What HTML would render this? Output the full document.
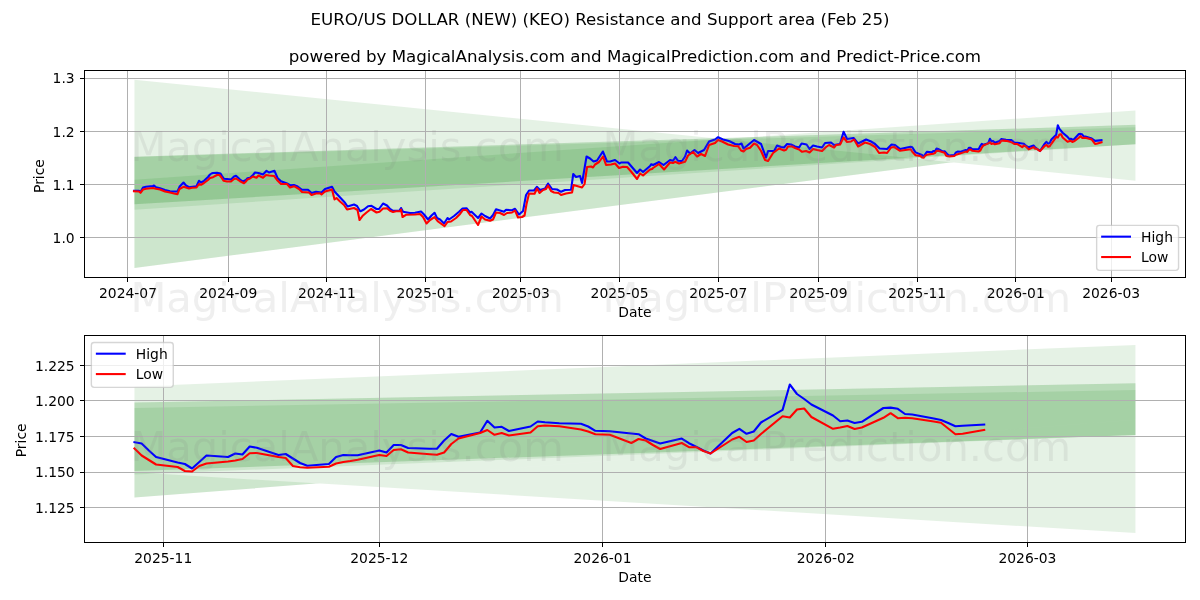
<!DOCTYPE html>
<html lang="en"><head><meta charset="utf-8"><title>EURO/US DOLLAR (NEW) (KEO) Resistance and Support area</title>
<style>html,body{margin:0;padding:0;background:#fff;width:1200px;height:600px;overflow:hidden}
svg{font-family:"DejaVu Sans","Liberation Sans",sans-serif}</style></head>
<body>
<svg width="1200" height="600" viewBox="0 0 864 432" style="display:block">
 <defs>
  <style type="text/css">*{stroke-linejoin: round; stroke-linecap: butt}</style>
 </defs>
 <g id="figure_1">
  <g id="patch_1">
   <path d="M 0 432 L 864 432 L 864 0 L 0 0 z" style="fill: #ffffff"/>
  </g>
  <g id="axes_1">
   <g id="patch_2">
    <path d="M 60.768 199.656 L 853.56 199.656 L 853.56 50.688 L 60.768 50.688 z" style="fill: #ffffff"/>
   </g>
   <g id="FillBetweenPolyCollection_1">
    <path d="M 96.804 192.887 L 96.804 57.455 L 817.524 130.140 L 817.524 99.691 L 817.524 99.691 L 96.804 192.887 z" clip-path="url(#p3111c5b65c)" style="fill: #008000; fill-opacity: 0.1"/>
   </g>
   <g id="FillBetweenPolyCollection_2">
    <path d="M 96.804 192.887 L 96.804 129.383 L 817.524 79.543 L 817.524 99.691 L 817.524 99.691 L 96.804 192.887 z" clip-path="url(#p3111c5b65c)" style="fill: #008000; fill-opacity: 0.1"/>
   </g>
   <g id="FillBetweenPolyCollection_3">
    <path d="M 96.804 147.023 L 96.804 112.823 L 817.524 89.873 L 817.524 103.779 L 817.524 103.779 L 96.804 147.023 z" clip-path="url(#p3111c5b65c)" style="fill: #008000; fill-opacity: 0.1"/>
   </g>
   <g id="FillBetweenPolyCollection_4">
    <path d="M 96.804 150.983 L 96.804 112.823 L 817.524 89.873 L 817.524 103.779 L 817.524 103.779 L 96.804 150.983 z" clip-path="url(#p3111c5b65c)" style="fill: #008000; fill-opacity: 0.1"/>
   </g>
   <g id="FillBetweenPolyCollection_5">
    <path d="M 96.804 147.023 L 96.804 113.111 L 817.524 91.675 L 817.524 103.779 L 817.524 103.779 L 96.804 147.023 z" clip-path="url(#p3111c5b65c)" style="fill: #008000; fill-opacity: 0.1"/>
   </g>
   <g id="matplotlib.axis_1">
    <g id="xtick_1">
     <g id="line2d_1">
      <path d="M 91.8000 199.6560 L 91.8000 50.6880" clip-path="url(#p3111c5b65c)" style="shape-rendering: crispEdges; fill: none; stroke: #b0b0b0; stroke-width: 0.72; stroke-linecap: square"/>
     </g>
     <g id="line2d_2">
      <g>
       <path d="M 0 0 L 0 3.5" transform="translate(91.8000 199.6560)" style="shape-rendering: crispEdges; stroke: #000000; stroke-width: 0.72; stroke: #000000; stroke-width: 0.72"/>
      </g>
     </g>
     <g id="text_1">
      <text style="font-size: 10px; font-family: 'DejaVu Sans', 'Liberation Sans', sans-serif; text-anchor: middle" x="92.146" y="214.254">2024-07</text>
     </g>
    </g>
    <g id="xtick_2">
     <g id="line2d_3">
      <path d="M 164.5200 199.6560 L 164.5200 50.6880" clip-path="url(#p3111c5b65c)" style="shape-rendering: crispEdges; fill: none; stroke: #b0b0b0; stroke-width: 0.72; stroke-linecap: square"/>
     </g>
     <g id="line2d_4">
      <g>
       <path d="M 0 0 L 0 3.5" transform="translate(164.5200 199.6560)" style="shape-rendering: crispEdges; stroke: #000000; stroke-width: 0.72; stroke: #000000; stroke-width: 0.72"/>
      </g>
     </g>
     <g id="text_2">
      <text style="font-size: 10px; font-family: 'DejaVu Sans', 'Liberation Sans', sans-serif; text-anchor: middle" x="164.335" y="214.254">2024-09</text>
     </g>
    </g>
    <g id="xtick_3">
     <g id="line2d_5">
      <path d="M 235.0800 199.6560 L 235.0800 50.6880" clip-path="url(#p3111c5b65c)" style="shape-rendering: crispEdges; fill: none; stroke: #b0b0b0; stroke-width: 0.72; stroke-linecap: square"/>
     </g>
     <g id="line2d_6">
      <g>
       <path d="M 0 0 L 0 3.5" transform="translate(235.0800 199.6560)" style="shape-rendering: crispEdges; stroke: #000000; stroke-width: 0.72; stroke: #000000; stroke-width: 0.72"/>
      </g>
     </g>
     <g id="text_3">
      <text style="font-size: 10px; font-family: 'DejaVu Sans', 'Liberation Sans', sans-serif; text-anchor: middle" x="235.359" y="214.254">2024-11</text>
     </g>
    </g>
    <g id="xtick_4">
     <g id="line2d_7">
      <path d="M 306.3600 199.6560 L 306.3600 50.6880" clip-path="url(#p3111c5b65c)" style="shape-rendering: crispEdges; fill: none; stroke: #b0b0b0; stroke-width: 0.72; stroke-linecap: square"/>
     </g>
     <g id="line2d_8">
      <g>
       <path d="M 0 0 L 0 3.5" transform="translate(306.3600 199.6560)" style="shape-rendering: crispEdges; stroke: #000000; stroke-width: 0.72; stroke: #000000; stroke-width: 0.72"/>
      </g>
     </g>
     <g id="text_4">
      <text style="font-size: 10px; font-family: 'DejaVu Sans', 'Liberation Sans', sans-serif; text-anchor: middle" x="306.383" y="214.254">2025-01</text>
     </g>
    </g>
    <g id="xtick_5">
     <g id="line2d_9">
      <path d="M 374.7600 199.6560 L 374.7600 50.6880" clip-path="url(#p3111c5b65c)" style="shape-rendering: crispEdges; fill: none; stroke: #b0b0b0; stroke-width: 0.72; stroke-linecap: square"/>
     </g>
     <g id="line2d_10">
      <g>
       <path d="M 0 0 L 0 3.5" transform="translate(374.7600 199.6560)" style="shape-rendering: crispEdges; stroke: #000000; stroke-width: 0.72; stroke: #000000; stroke-width: 0.72"/>
      </g>
     </g>
     <g id="text_5">
      <text style="font-size: 10px; font-family: 'DejaVu Sans', 'Liberation Sans', sans-serif; text-anchor: middle" x="375.078" y="214.254">2025-03</text>
     </g>
    </g>
    <g id="xtick_6">
     <g id="line2d_11">
      <path d="M 446.0400 199.6560 L 446.0400 50.6880" clip-path="url(#p3111c5b65c)" style="shape-rendering: crispEdges; fill: none; stroke: #b0b0b0; stroke-width: 0.72; stroke-linecap: square"/>
     </g>
     <g id="line2d_12">
      <g>
       <path d="M 0 0 L 0 3.5" transform="translate(446.0400 199.6560)" style="shape-rendering: crispEdges; stroke: #000000; stroke-width: 0.72; stroke: #000000; stroke-width: 0.72"/>
      </g>
     </g>
     <g id="text_6">
      <text style="font-size: 10px; font-family: 'DejaVu Sans', 'Liberation Sans', sans-serif; text-anchor: middle" x="446.102" y="214.254">2025-05</text>
     </g>
    </g>
    <g id="xtick_7">
     <g id="line2d_13">
      <path d="M 517.3200 199.6560 L 517.3200 50.6880" clip-path="url(#p3111c5b65c)" style="shape-rendering: crispEdges; fill: none; stroke: #b0b0b0; stroke-width: 0.72; stroke-linecap: square"/>
     </g>
     <g id="line2d_14">
      <g>
       <path d="M 0 0 L 0 3.5" transform="translate(517.3200 199.6560)" style="shape-rendering: crispEdges; stroke: #000000; stroke-width: 0.72; stroke: #000000; stroke-width: 0.72"/>
      </g>
     </g>
     <g id="text_7">
      <text style="font-size: 10px; font-family: 'DejaVu Sans', 'Liberation Sans', sans-serif; text-anchor: middle" x="517.126" y="214.254">2025-07</text>
     </g>
    </g>
    <g id="xtick_8">
     <g id="line2d_15">
      <path d="M 589.3200 199.6560 L 589.3200 50.6880" clip-path="url(#p3111c5b65c)" style="shape-rendering: crispEdges; fill: none; stroke: #b0b0b0; stroke-width: 0.72; stroke-linecap: square"/>
     </g>
     <g id="line2d_16">
      <g>
       <path d="M 0 0 L 0 3.5" transform="translate(589.3200 199.6560)" style="shape-rendering: crispEdges; stroke: #000000; stroke-width: 0.72; stroke: #000000; stroke-width: 0.72"/>
      </g>
     </g>
     <g id="text_8">
      <text style="font-size: 10px; font-family: 'DejaVu Sans', 'Liberation Sans', sans-serif; text-anchor: middle" x="589.315" y="214.254">2025-09</text>
     </g>
    </g>
    <g id="xtick_9">
     <g id="line2d_17">
      <path d="M 660.6000 199.6560 L 660.6000 50.6880" clip-path="url(#p3111c5b65c)" style="shape-rendering: crispEdges; fill: none; stroke: #b0b0b0; stroke-width: 0.72; stroke-linecap: square"/>
     </g>
     <g id="line2d_18">
      <g>
       <path d="M 0 0 L 0 3.5" transform="translate(660.6000 199.6560)" style="shape-rendering: crispEdges; stroke: #000000; stroke-width: 0.72; stroke: #000000; stroke-width: 0.72"/>
      </g>
     </g>
     <g id="text_9">
      <text style="font-size: 10px; font-family: 'DejaVu Sans', 'Liberation Sans', sans-serif; text-anchor: middle" x="660.339" y="214.254">2025-11</text>
     </g>
    </g>
    <g id="xtick_10">
     <g id="line2d_19">
      <path d="M 731.1600 199.6560 L 731.1600 50.6880" clip-path="url(#p3111c5b65c)" style="shape-rendering: crispEdges; fill: none; stroke: #b0b0b0; stroke-width: 0.72; stroke-linecap: square"/>
     </g>
     <g id="line2d_20">
      <g>
       <path d="M 0 0 L 0 3.5" transform="translate(731.1600 199.6560)" style="shape-rendering: crispEdges; stroke: #000000; stroke-width: 0.72; stroke: #000000; stroke-width: 0.72"/>
      </g>
     </g>
     <g id="text_10">
      <text style="font-size: 10px; font-family: 'DejaVu Sans', 'Liberation Sans', sans-serif; text-anchor: middle" x="731.363" y="214.254">2026-01</text>
     </g>
    </g>
    <g id="xtick_11">
     <g id="line2d_21">
      <path d="M 800.2800 199.6560 L 800.2800 50.6880" clip-path="url(#p3111c5b65c)" style="shape-rendering: crispEdges; fill: none; stroke: #b0b0b0; stroke-width: 0.72; stroke-linecap: square"/>
     </g>
     <g id="line2d_22">
      <g>
       <path d="M 0 0 L 0 3.5" transform="translate(800.2800 199.6560)" style="shape-rendering: crispEdges; stroke: #000000; stroke-width: 0.72; stroke: #000000; stroke-width: 0.72"/>
      </g>
     </g>
     <g id="text_11">
      <text style="font-size: 10px; font-family: 'DejaVu Sans', 'Liberation Sans', sans-serif; text-anchor: middle" x="800.059" y="214.254">2026-03</text>
     </g>
    </g>
    <g id="text_12">
     <text style="font-size: 10px; font-family: 'DejaVu Sans', 'Liberation Sans', sans-serif; text-anchor: middle" x="457.164" y="227.932">Date</text>
    </g>
   </g>
   <g id="matplotlib.axis_2">
    <g id="ytick_1">
     <g id="line2d_23">
      <path d="M 60.7680 171.0000 L 853.5600 171.0000" clip-path="url(#p3111c5b65c)" style="shape-rendering: crispEdges; fill: none; stroke: #b0b0b0; stroke-width: 0.72; stroke-linecap: square"/>
     </g>
     <g id="line2d_24">
      <g>
       <path d="M 0 0 L -3.5 0" transform="translate(60.7680 171.0000)" style="shape-rendering: crispEdges; stroke: #000000; stroke-width: 0.72; stroke: #000000; stroke-width: 0.72"/>
      </g>
     </g>
     <g id="text_13">
      <text style="font-size: 10px; font-family: 'DejaVu Sans', 'Liberation Sans', sans-serif; text-anchor: end" x="53.768" y="175.014">1.0</text>
     </g>
    </g>
    <g id="ytick_2">
     <g id="line2d_25">
      <path d="M 60.7680 132.8400 L 853.5600 132.8400" clip-path="url(#p3111c5b65c)" style="shape-rendering: crispEdges; fill: none; stroke: #b0b0b0; stroke-width: 0.72; stroke-linecap: square"/>
     </g>
     <g id="line2d_26">
      <g>
       <path d="M 0 0 L -3.5 0" transform="translate(60.7680 132.8400)" style="shape-rendering: crispEdges; stroke: #000000; stroke-width: 0.72; stroke: #000000; stroke-width: 0.72"/>
      </g>
     </g>
     <g id="text_14">
      <text style="font-size: 10px; font-family: 'DejaVu Sans', 'Liberation Sans', sans-serif; text-anchor: end" x="53.768" y="136.710">1.1</text>
     </g>
    </g>
    <g id="ytick_3">
     <g id="line2d_27">
      <path d="M 60.7680 94.6800 L 853.5600 94.6800" clip-path="url(#p3111c5b65c)" style="shape-rendering: crispEdges; fill: none; stroke: #b0b0b0; stroke-width: 0.72; stroke-linecap: square"/>
     </g>
     <g id="line2d_28">
      <g>
       <path d="M 0 0 L -3.5 0" transform="translate(60.7680 94.6800)" style="shape-rendering: crispEdges; stroke: #000000; stroke-width: 0.72; stroke: #000000; stroke-width: 0.72"/>
      </g>
     </g>
     <g id="text_15">
      <text style="font-size: 10px; font-family: 'DejaVu Sans', 'Liberation Sans', sans-serif; text-anchor: end" x="53.768" y="98.406">1.2</text>
     </g>
    </g>
    <g id="ytick_4">
     <g id="line2d_29">
      <path d="M 60.7680 56.5200 L 853.5600 56.5200" clip-path="url(#p3111c5b65c)" style="shape-rendering: crispEdges; fill: none; stroke: #b0b0b0; stroke-width: 0.72; stroke-linecap: square"/>
     </g>
     <g id="line2d_30">
      <g>
       <path d="M 0 0 L -3.5 0" transform="translate(60.7680 56.5200)" style="shape-rendering: crispEdges; stroke: #000000; stroke-width: 0.72; stroke: #000000; stroke-width: 0.72"/>
      </g>
     </g>
     <g id="text_16">
      <text style="font-size: 10px; font-family: 'DejaVu Sans', 'Liberation Sans', sans-serif; text-anchor: end" x="53.768" y="60.102">1.3</text>
     </g>
    </g>
    <g id="text_17">
     <text style="font-size: 10px; font-family: 'DejaVu Sans', 'Liberation Sans', sans-serif; text-anchor: middle" x="31.785" y="126.756" transform="rotate(-90 31.785 126.756)">Price</text>
    </g>
   </g>
   <g id="line2d_31">
    <path d="M 96.479 137.375 L 100.080 137.375 L 101.160 138.239 L 102.960 134.999 L 105.120 134.495 L 110.161 133.919 L 110.881 133.559 L 112.321 134.783 L 115.201 135.503 L 118.802 136.799 L 122.402 137.663 L 125.282 137.879 L 127.803 137.879 L 129.243 134.495 L 132.123 131.399 L 133.923 133.559 L 136.083 134.783 L 141.484 134.063 L 143.284 130.175 L 144.724 131.399 L 146.885 130.175 L 149.765 127.439 L 151.205 125.639 L 152.285 124.919 L 153.365 124.559 L 156.245 124.415 L 158.766 124.919 L 159.846 126.719 L 161.286 128.735 L 163.446 128.879 L 166.326 129.239 L 168.487 127.079 L 169.927 126.575 L 172.807 129.239 L 174.967 130.679 L 177.128 129.599 L 178.208 128.303 L 180.008 128.015 L 182.168 125.999 L 183.608 124.199 L 186.128 124.559 L 189.369 125.639 L 191.889 122.975 L 193.689 124.199 L 197.650 122.975 L 199.810 128.159 L 202.330 130.463 L 206.650 132.119 L 208.811 133.343 L 211.691 133.199 L 213.851 134.063 L 217.452 136.655 L 221.772 136.655 L 224.292 138.959 L 227.533 138.095 L 231.493 138.599 L 234.013 136.079 L 239.054 134.495 L 240.854 137.879 L 248.415 146.015 L 250.215 148.679 L 254.895 147.239 L 257.056 148.319 L 259.216 151.919 L 259.576 152.063 L 262.096 150.839 L 264.976 148.463 L 267.497 148.175 L 271.097 150.479 L 272.897 150.479 L 275.777 146.519 L 278.658 147.959 L 280.818 150.479 L 282.978 151.775 L 285.138 151.775 L 287.659 151.559 L 288.739 149.759 L 290.179 152.495 L 295.219 153.359 L 298.820 153.215 L 303.140 152.279 L 305.300 154.439 L 308.181 158.039 L 310.701 155.159 L 312.861 153.215 L 314.661 156.959 L 316.821 158.039 L 319.702 160.919 L 322.222 156.959 L 323.302 158.039 L 326.902 155.519 L 330.503 152.495 L 333.023 150.119 L 335.903 149.903 L 338.424 152.999 L 339.504 152.495 L 344.184 156.959 L 346.704 153.719 L 349.225 155.519 L 352.825 157.319 L 354.985 154.799 L 357.146 150.623 L 362.906 152.495 L 364.346 151.055 L 368.667 151.343 L 370.827 150.335 L 373.707 154.439 L 376.587 151.919 L 378.748 140.399 L 380.908 137.159 L 384.508 137.159 L 386.524 134.495 L 388.829 136.799 L 392.429 135.719 L 394.589 132.119 L 397.470 136.079 L 401.070 136.439 L 403.950 138.095 L 406.830 136.799 L 411.151 136.655 L 412.735 125.279 L 414.751 127.439 L 417.632 126.719 L 419.072 131.759 L 422.312 112.679 L 424.832 114.119 L 427.353 116.279 L 429.873 115.559 L 434.049 109.079 L 437.073 116.279 L 439.234 116.279 L 442.834 115.199 L 446.074 117.719 L 447.155 116.999 L 452.195 116.999 L 458.676 124.559 L 460.836 122.039 L 462.996 123.839 L 468.037 119.519 L 468.901 118.223 L 470.197 118.799 L 474.517 116.639 L 477.758 118.799 L 482.438 115.199 L 484.598 115.775 L 486.254 113.183 L 488.199 115.775 L 491.079 115.919 L 493.239 112.679 L 494.679 108.359 L 496.839 110.519 L 500.080 107.999 L 502.600 110.159 L 506.920 107.999 L 510.521 101.879 L 514.841 100.439 L 517.001 98.783 L 520.602 100.439 L 524.922 101.519 L 529.243 103.679 L 532.123 104.039 L 533.923 103.319 L 535.363 106.919 L 537.884 104.975 L 542.924 100.799 L 547.965 103.679 L 551.565 113.399 L 553.005 108.719 L 557.326 108.719 L 559.486 104.759 L 562.366 105.839 L 564.526 106.199 L 566.686 103.679 L 569.567 104.039 L 572.447 105.479 L 575.327 106.199 L 577.127 103.319 L 580.728 104.039 L 582.888 107.279 L 585.408 104.759 L 588.289 105.479 L 591.889 106.199 L 594.049 102.959 L 598.370 102.599 L 600.530 104.399 L 604.850 103.679 L 607.371 94.895 L 609.891 100.079 L 614.571 99.359 L 617.812 103.319 L 623.572 100.439 L 627.172 101.879 L 630.053 103.679 L 633.293 106.919 L 638.694 107.279 L 641.934 104.039 L 644.454 104.399 L 648.055 107.279 L 655.682 105.716 L 656.846 106.066 L 659.175 109.697 L 663.832 111.580 L 664.996 112.790 L 667.325 109.294 L 670.818 109.697 L 671.982 108.756 L 673.147 109.025 L 674.311 106.873 L 675.475 107.222 L 678.968 109.159 L 680.133 108.890 L 682.461 111.311 L 683.626 112.064 L 687.119 111.580 L 688.283 109.697 L 689.447 109.159 L 691.776 109.213 L 695.269 107.949 L 696.433 108.487 L 697.598 106.469 L 698.762 106.469 L 699.926 107.276 L 704.584 107.491 L 705.748 105.259 L 706.912 103.510 L 708.077 104.264 L 711.570 103.107 L 712.734 99.960 L 713.898 101.762 L 715.062 101.574 L 716.227 102.703 L 719.720 101.493 L 720.884 100.148 L 724.377 100.605 L 727.870 100.767 L 729.034 101.493 L 730.199 102.650 L 732.527 102.757 L 737.185 103.564 L 738.349 104.721 L 740.678 106.066 L 744.171 104.748 L 745.335 105.985 L 748.828 108.756 L 752.321 103.241 L 753.485 102.112 L 754.650 103.457 L 755.814 102.838 L 756.978 100.417 L 760.471 97.028 L 761.636 90.195 L 762.800 92.751 L 765.129 95.575 L 768.622 98.534 L 769.786 100.067 L 770.950 99.879 L 772.115 100.551 L 773.279 100.229 L 776.772 96.517 L 777.936 96.409 L 779.101 96.732 L 780.265 98.131 L 781.429 98.265 L 786.087 99.745 L 788.415 101.412 L 793.073 100.955 L 793.073 100.955" clip-path="url(#p3111c5b65c)" style="fill: none; stroke: #0000ff; stroke-width: 1.5; stroke-linecap: square"/>
   </g>
   <g id="line2d_32">
    <path d="M 96.479 137.663 L 100.080 137.879 L 101.160 138.815 L 102.960 136.439 L 105.120 135.935 L 110.161 135.359 L 112.321 135.935 L 115.201 136.439 L 118.802 137.879 L 122.402 138.599 L 125.282 139.319 L 127.803 139.823 L 129.243 136.079 L 132.123 134.495 L 136.083 135.719 L 138.244 135.215 L 141.484 134.999 L 143.284 132.479 L 144.724 133.055 L 146.885 131.759 L 149.765 129.599 L 151.205 128.159 L 153.365 127.583 L 156.245 125.999 L 158.046 125.999 L 159.486 127.799 L 160.926 130.175 L 163.446 130.679 L 166.326 130.679 L 168.487 128.879 L 169.927 128.519 L 172.807 130.463 L 175.687 131.903 L 177.128 130.679 L 178.208 129.239 L 180.008 128.519 L 182.168 127.079 L 184.688 128.015 L 186.128 126.359 L 189.369 128.015 L 191.529 125.999 L 193.689 126.359 L 197.290 126.719 L 199.450 129.599 L 202.330 132.479 L 206.650 132.479 L 208.811 134.999 L 211.691 134.063 L 215.291 136.079 L 217.452 138.239 L 222.492 138.599 L 224.292 140.399 L 227.533 139.319 L 230.413 139.103 L 231.493 140.039 L 234.013 137.879 L 239.054 136.439 L 240.854 143.639 L 242.294 142.559 L 244.814 145.079 L 247.695 147.599 L 249.855 150.839 L 254.895 149.759 L 257.416 151.199 L 258.856 158.399 L 259.216 158.039 L 261.376 155.159 L 263.896 152.999 L 267.137 150.479 L 271.097 152.999 L 273.257 152.495 L 275.777 150.119 L 278.658 149.903 L 280.818 151.775 L 282.978 152.639 L 285.138 152.063 L 288.019 152.063 L 288.739 150.839 L 289.819 156.239 L 292.339 154.655 L 298.820 154.439 L 302.420 154.079 L 304.580 156.239 L 307.101 160.919 L 309.621 158.399 L 312.861 156.383 L 315.381 159.479 L 320.062 162.863 L 322.222 159.839 L 324.742 159.479 L 328.343 156.959 L 331.223 154.079 L 333.383 151.199 L 335.903 151.199 L 338.424 154.799 L 339.864 155.519 L 344.184 161.999 L 346.704 155.879 L 349.225 158.039 L 352.825 158.975 L 354.985 158.039 L 357.146 152.999 L 360.026 153.359 L 362.906 154.799 L 365.066 153.359 L 368.667 152.999 L 370.827 151.559 L 372.987 156.599 L 375.867 156.239 L 377.668 155.159 L 379.108 146.879 L 380.908 139.319 L 384.868 139.535 L 386.668 135.719 L 388.469 138.959 L 390.989 136.799 L 393.149 136.079 L 394.589 133.559 L 396.749 137.519 L 398.910 138.599 L 402.150 138.959 L 403.950 140.399 L 407.551 139.319 L 411.871 138.599 L 412.951 133.199 L 419.072 134.999 L 420.872 132.479 L 422.672 120.239 L 425.552 119.879 L 426.992 120.599 L 428.433 118.439 L 431.313 116.639 L 434.193 112.679 L 436.353 118.799 L 439.954 118.439 L 442.834 117.719 L 445.714 120.959 L 448.595 120.095 L 451.475 120.239 L 454.355 123.479 L 458.676 128.879 L 460.836 124.919 L 462.996 126.359 L 468.037 122.039 L 469.477 121.679 L 470.197 120.959 L 474.517 118.079 L 478.118 122.039 L 482.438 116.999 L 484.598 117.359 L 486.038 116.495 L 488.919 117.719 L 493.239 116.495 L 495.399 111.959 L 499.000 109.439 L 501.880 112.679 L 504.760 110.879 L 507.641 112.319 L 510.521 104.399 L 514.841 102.959 L 517.001 100.799 L 519.882 101.879 L 524.202 104.039 L 528.523 105.119 L 531.403 105.263 L 533.563 108.359 L 535.363 109.079 L 537.163 107.279 L 540.044 106.415 L 542.924 103.319 L 545.084 104.399 L 547.965 108.719 L 550.845 115.199 L 553.005 115.919 L 556.605 110.159 L 560.926 106.919 L 564.526 108.359 L 565.966 107.855 L 567.407 105.479 L 570.287 105.479 L 572.447 106.559 L 575.327 107.639 L 577.488 109.295 L 580.368 108.719 L 582.888 109.799 L 585.408 107.279 L 588.289 107.999 L 591.889 108.719 L 594.769 105.839 L 596.929 104.399 L 600.530 106.199 L 601.970 104.399 L 604.850 104.039 L 607.371 98.999 L 609.891 102.239 L 612.771 101.879 L 614.931 100.439 L 617.812 105.479 L 622.852 102.599 L 626.452 103.679 L 630.053 105.839 L 632.933 110.159 L 636.533 109.799 L 638.694 110.159 L 641.574 106.199 L 643.734 105.839 L 648.055 108.575 L 655.682 107.411 L 656.846 109.294 L 659.175 111.715 L 662.668 112.387 L 663.832 113.463 L 664.996 113.597 L 666.161 112.118 L 667.325 111.446 L 671.982 110.639 L 673.147 110.235 L 674.311 108.675 L 675.475 108.621 L 680.133 109.966 L 681.297 112.118 L 682.461 112.441 L 683.626 112.602 L 687.119 112.333 L 688.283 111.446 L 689.447 111.042 L 691.776 110.423 L 695.269 109.159 L 696.433 109.428 L 697.598 107.814 L 698.762 107.599 L 699.926 108.487 L 704.584 109.078 L 705.748 108.487 L 706.912 106.200 L 708.077 104.721 L 711.570 103.241 L 712.734 102.434 L 713.898 103.726 L 715.062 103.241 L 716.227 103.914 L 719.720 103.107 L 720.884 101.412 L 722.048 101.224 L 724.377 101.412 L 727.870 102.300 L 729.034 102.838 L 730.199 103.564 L 732.527 103.726 L 736.020 105.931 L 737.185 104.855 L 738.349 105.259 L 740.678 107.545 L 744.171 105.931 L 745.335 107.034 L 746.499 107.061 L 747.664 108.083 L 748.828 108.756 L 752.321 104.990 L 753.485 104.264 L 754.650 105.662 L 755.814 105.259 L 756.978 103.510 L 760.471 98.722 L 761.636 99.072 L 762.800 96.920 L 763.964 96.651 L 765.129 98.938 L 768.622 102.112 L 770.950 101.358 L 772.115 102.165 L 773.279 101.762 L 776.772 99.153 L 777.936 97.915 L 779.101 99.260 L 780.265 99.153 L 781.429 99.260 L 786.087 100.498 L 788.415 103.564 L 789.580 103.457 L 793.073 102.434 L 793.073 102.434" clip-path="url(#p3111c5b65c)" style="fill: none; stroke: #ff0000; stroke-width: 1.5; stroke-linecap: square"/>
   </g>
   <g id="patch_3">
    <path d="M 60.8400 199.6560 L 60.8400 50.6880" style="shape-rendering: crispEdges; fill: none; stroke: #000000; stroke-width: 0.72; stroke-linejoin: miter; stroke-linecap: square"/>
   </g>
   <g id="patch_4">
    <path d="M 853.5600 199.6560 L 853.5600 50.6880" style="shape-rendering: crispEdges; fill: none; stroke: #000000; stroke-width: 0.72; stroke-linejoin: miter; stroke-linecap: square"/>
   </g>
   <g id="patch_5">
    <path d="M 60.7680 199.8000 L 853.5600 199.8000" style="shape-rendering: crispEdges; fill: none; stroke: #000000; stroke-width: 0.72; stroke-linejoin: miter; stroke-linecap: square"/>
   </g>
   <g id="patch_6">
    <path d="M 60.7680 50.7600 L 853.5600 50.7600" style="shape-rendering: crispEdges; fill: none; stroke: #000000; stroke-width: 0.72; stroke-linejoin: miter; stroke-linecap: square"/>
   </g>
   <g id="text_18">
    <text style="font-size: 12px; font-family: 'DejaVu Sans', 'Liberation Sans', sans-serif; text-anchor: middle" x="457.164" y="44.688">powered by MagicalAnalysis.com and MagicalPrediction.com and Predict-Price.com</text>
   </g>
   <g id="legend_1">
    <g id="patch_7">
     <path d="M 791.575 194.656 L 846.56 194.656 Q 848.56 194.656 848.56 192.656 L 848.56 164.299 Q 848.56 162.299 846.56 162.299 L 791.575 162.299 Q 789.575 162.299 789.575 164.299 L 789.575 192.656 Q 789.575 194.656 791.575 194.656 z" style="fill: #ffffff; opacity: 0.8; stroke: #cccccc; stroke-linejoin: miter"/>
    </g>
    <g id="line2d_33">
     <path d="M 793.575 170.398 L 803.575 170.398 L 813.575 170.398" style="fill: none; stroke: #0000ff; stroke-width: 1.5; stroke-linecap: square"/>
    </g>
    <g id="text_19">
     <text style="font-size: 10px; font-family: 'DejaVu Sans', 'Liberation Sans', sans-serif; text-anchor: start" x="821.575" y="173.898">High</text>
    </g>
    <g id="line2d_34">
     <path d="M 793.575 185.076 L 803.575 185.076 L 813.575 185.076" style="fill: none; stroke: #ff0000; stroke-width: 1.5; stroke-linecap: square"/>
    </g>
    <g id="text_20">
     <text style="font-size: 10px; font-family: 'DejaVu Sans', 'Liberation Sans', sans-serif; text-anchor: start" x="821.575" y="188.576">Low</text>
    </g>
   </g>
  </g>
  <g id="axes_2">
   <g id="patch_8">
    <path d="M 60.768 390.528 L 853.56 390.528 L 853.56 241.56 L 60.768 241.56 z" style="fill: #ffffff"/>
   </g>
   <g id="FillBetweenPolyCollection_6">
    <path d="M 96.804 358.272 L 96.804 340.070 L 817.524 383.758 L 817.524 302.256 L 817.524 302.256 L 96.804 358.272 z" clip-path="url(#pc6e94846f8)" style="fill: #008000; fill-opacity: 0.1"/>
   </g>
   <g id="FillBetweenPolyCollection_7">
    <path d="M 96.804 358.272 L 96.804 278.286 L 817.524 248.330 L 817.524 302.256 L 817.524 302.256 L 96.804 358.272 z" clip-path="url(#pc6e94846f8)" style="fill: #008000; fill-opacity: 0.1"/>
   </g>
   <g id="FillBetweenPolyCollection_8">
    <path d="M 96.804 339.191 L 96.804 289.772 L 817.524 275.977 L 817.524 313.200 L 817.524 313.200 L 96.804 339.191 z" clip-path="url(#pc6e94846f8)" style="fill: #008000; fill-opacity: 0.1"/>
   </g>
   <g id="FillBetweenPolyCollection_9">
    <path d="M 96.804 341.572 L 96.804 289.772 L 817.524 275.977 L 817.524 313.200 L 817.524 313.200 L 96.804 341.572 z" clip-path="url(#pc6e94846f8)" style="fill: #008000; fill-opacity: 0.1"/>
   </g>
   <g id="FillBetweenPolyCollection_10">
    <path d="M 96.804 339.191 L 96.804 293.685 L 817.524 280.801 L 817.524 313.200 L 817.524 313.200 L 96.804 339.191 z" clip-path="url(#pc6e94846f8)" style="fill: #008000; fill-opacity: 0.1"/>
   </g>
   <g id="matplotlib.axis_3">
    <g id="xtick_12">
     <g id="line2d_35">
      <path d="M 117.7200 390.5280 L 117.7200 241.5600" clip-path="url(#pc6e94846f8)" style="shape-rendering: crispEdges; fill: none; stroke: #b0b0b0; stroke-width: 0.72; stroke-linecap: square"/>
     </g>
     <g id="line2d_36">
      <g>
       <path d="M 0 0 L 0 3.5" transform="translate(117.7200 390.5280)" style="shape-rendering: crispEdges; stroke: #000000; stroke-width: 0.72; stroke: #000000; stroke-width: 0.72"/>
      </g>
     </g>
     <g id="text_21">
      <text style="font-size: 10px; font-family: 'DejaVu Sans', 'Liberation Sans', sans-serif; text-anchor: middle" x="117.544" y="405.126">2025-11</text>
     </g>
    </g>
    <g id="xtick_13">
     <g id="line2d_37">
      <path d="M 273.2400 390.5280 L 273.2400 241.5600" clip-path="url(#pc6e94846f8)" style="shape-rendering: crispEdges; fill: none; stroke: #b0b0b0; stroke-width: 0.72; stroke-linecap: square"/>
     </g>
     <g id="line2d_38">
      <g>
       <path d="M 0 0 L 0 3.5" transform="translate(273.2400 390.5280)" style="shape-rendering: crispEdges; stroke: #000000; stroke-width: 0.72; stroke: #000000; stroke-width: 0.72"/>
      </g>
     </g>
     <g id="text_22">
      <text style="font-size: 10px; font-family: 'DejaVu Sans', 'Liberation Sans', sans-serif; text-anchor: middle" x="273.095" y="405.126">2025-12</text>
     </g>
    </g>
    <g id="xtick_14">
     <g id="line2d_39">
      <path d="M 433.8000 390.5280 L 433.8000 241.5600" clip-path="url(#pc6e94846f8)" style="shape-rendering: crispEdges; fill: none; stroke: #b0b0b0; stroke-width: 0.72; stroke-linecap: square"/>
     </g>
     <g id="line2d_40">
      <g>
       <path d="M 0 0 L 0 3.5" transform="translate(433.8000 390.5280)" style="shape-rendering: crispEdges; stroke: #000000; stroke-width: 0.72; stroke: #000000; stroke-width: 0.72"/>
      </g>
     </g>
     <g id="text_23">
      <text style="font-size: 10px; font-family: 'DejaVu Sans', 'Liberation Sans', sans-serif; text-anchor: middle" x="433.831" y="405.126">2026-01</text>
     </g>
    </g>
    <g id="xtick_15">
     <g id="line2d_41">
      <path d="M 594.3600 390.5280 L 594.3600 241.5600" clip-path="url(#pc6e94846f8)" style="shape-rendering: crispEdges; fill: none; stroke: #b0b0b0; stroke-width: 0.72; stroke-linecap: square"/>
     </g>
     <g id="line2d_42">
      <g>
       <path d="M 0 0 L 0 3.5" transform="translate(594.3600 390.5280)" style="shape-rendering: crispEdges; stroke: #000000; stroke-width: 0.72; stroke: #000000; stroke-width: 0.72"/>
      </g>
     </g>
     <g id="text_24">
      <text style="font-size: 10px; font-family: 'DejaVu Sans', 'Liberation Sans', sans-serif; text-anchor: middle" x="594.567" y="405.126">2026-02</text>
     </g>
    </g>
    <g id="xtick_16">
     <g id="line2d_43">
      <path d="M 739.8000 390.5280 L 739.8000 241.5600" clip-path="url(#pc6e94846f8)" style="shape-rendering: crispEdges; fill: none; stroke: #b0b0b0; stroke-width: 0.72; stroke-linecap: square"/>
     </g>
     <g id="line2d_44">
      <g>
       <path d="M 0 0 L 0 3.5" transform="translate(739.8000 390.5280)" style="shape-rendering: crispEdges; stroke: #000000; stroke-width: 0.72; stroke: #000000; stroke-width: 0.72"/>
      </g>
     </g>
     <g id="text_25">
      <text style="font-size: 10px; font-family: 'DejaVu Sans', 'Liberation Sans', sans-serif; text-anchor: middle" x="739.748" y="405.126">2026-03</text>
     </g>
    </g>
    <g id="text_26">
     <text style="font-size: 10px; font-family: 'DejaVu Sans', 'Liberation Sans', sans-serif; text-anchor: middle" x="457.164" y="418.804">Date</text>
    </g>
   </g>
   <g id="matplotlib.axis_4">
    <g id="ytick_5">
     <g id="line2d_45">
      <path d="M 60.7680 365.4000 L 853.5600 365.4000" clip-path="url(#pc6e94846f8)" style="shape-rendering: crispEdges; fill: none; stroke: #b0b0b0; stroke-width: 0.72; stroke-linecap: square"/>
     </g>
     <g id="line2d_46">
      <g>
       <path d="M 0 0 L -3.5 0" transform="translate(60.7680 365.4000)" style="shape-rendering: crispEdges; stroke: #000000; stroke-width: 0.72; stroke: #000000; stroke-width: 0.72"/>
      </g>
     </g>
     <g id="text_27">
      <text style="font-size: 10px; font-family: 'DejaVu Sans', 'Liberation Sans', sans-serif; text-anchor: end" x="53.768" y="369.342">1.125</text>
     </g>
    </g>
    <g id="ytick_6">
     <g id="line2d_47">
      <path d="M 60.7680 340.2000 L 853.5600 340.2000" clip-path="url(#pc6e94846f8)" style="shape-rendering: crispEdges; fill: none; stroke: #b0b0b0; stroke-width: 0.72; stroke-linecap: square"/>
     </g>
     <g id="line2d_48">
      <g>
       <path d="M 0 0 L -3.5 0" transform="translate(60.7680 340.2000)" style="shape-rendering: crispEdges; stroke: #000000; stroke-width: 0.72; stroke: #000000; stroke-width: 0.72"/>
      </g>
     </g>
     <g id="text_28">
      <text style="font-size: 10px; font-family: 'DejaVu Sans', 'Liberation Sans', sans-serif; text-anchor: end" x="53.768" y="343.710">1.150</text>
     </g>
    </g>
    <g id="ytick_7">
     <g id="line2d_49">
      <path d="M 60.7680 314.2800 L 853.5600 314.2800" clip-path="url(#pc6e94846f8)" style="shape-rendering: crispEdges; fill: none; stroke: #b0b0b0; stroke-width: 0.72; stroke-linecap: square"/>
     </g>
     <g id="line2d_50">
      <g>
       <path d="M 0 0 L -3.5 0" transform="translate(60.7680 314.2800)" style="shape-rendering: crispEdges; stroke: #000000; stroke-width: 0.72; stroke: #000000; stroke-width: 0.72"/>
      </g>
     </g>
     <g id="text_29">
      <text style="font-size: 10px; font-family: 'DejaVu Sans', 'Liberation Sans', sans-serif; text-anchor: end" x="53.768" y="318.079">1.175</text>
     </g>
    </g>
    <g id="ytick_8">
     <g id="line2d_51">
      <path d="M 60.7680 288.3600 L 853.5600 288.3600" clip-path="url(#pc6e94846f8)" style="shape-rendering: crispEdges; fill: none; stroke: #b0b0b0; stroke-width: 0.72; stroke-linecap: square"/>
     </g>
     <g id="line2d_52">
      <g>
       <path d="M 0 0 L -3.5 0" transform="translate(60.7680 288.3600)" style="shape-rendering: crispEdges; stroke: #000000; stroke-width: 0.72; stroke: #000000; stroke-width: 0.72"/>
      </g>
     </g>
     <g id="text_30">
      <text style="font-size: 10px; font-family: 'DejaVu Sans', 'Liberation Sans', sans-serif; text-anchor: end" x="53.768" y="292.448">1.200</text>
     </g>
    </g>
    <g id="ytick_9">
     <g id="line2d_53">
      <path d="M 60.7680 263.1600 L 853.5600 263.1600" clip-path="url(#pc6e94846f8)" style="shape-rendering: crispEdges; fill: none; stroke: #b0b0b0; stroke-width: 0.72; stroke-linecap: square"/>
     </g>
     <g id="line2d_54">
      <g>
       <path d="M 0 0 L -3.5 0" transform="translate(60.7680 263.1600)" style="shape-rendering: crispEdges; stroke: #000000; stroke-width: 0.72; stroke: #000000; stroke-width: 0.72"/>
      </g>
     </g>
     <g id="text_31">
      <text style="font-size: 10px; font-family: 'DejaVu Sans', 'Liberation Sans', sans-serif; text-anchor: end" x="53.768" y="266.817">1.225</text>
     </g>
    </g>
    <g id="text_32">
     <text style="font-size: 10px; font-family: 'DejaVu Sans', 'Liberation Sans', sans-serif; text-anchor: middle" x="19.060" y="317.052" transform="rotate(-90 19.060 317.052)">Price</text>
    </g>
   </g>
   <g id="line2d_55">
    <path d="M 96.804 318.384 L 101.989 319.320 L 107.174 324.360 L 112.359 329.040 L 127.914 332.999 L 133.099 334.079 L 138.284 337.319 L 143.469 332.639 L 148.654 327.960 L 164.209 329.040 L 169.394 326.520 L 174.579 327.240 L 179.764 321.480 L 184.949 322.416 L 200.504 327.600 L 205.689 326.880 L 210.874 330.120 L 216.059 333.359 L 221.244 335.375 L 236.799 334.079 L 241.985 329.040 L 247.170 327.600 L 252.355 327.816 L 257.540 327.744 L 273.095 324.360 L 278.280 325.800 L 283.465 320.400 L 288.650 320.400 L 293.835 322.560 L 309.390 323.136 L 314.575 323.136 L 319.760 317.160 L 324.945 312.480 L 330.130 314.496 L 345.685 311.400 L 350.870 302.976 L 356.055 307.800 L 361.240 307.296 L 366.425 310.320 L 381.980 307.080 L 387.166 303.480 L 392.351 303.984 L 402.721 304.704 L 418.276 305.136 L 423.461 307.080 L 428.646 310.176 L 439.016 310.464 L 454.571 312.120 L 459.756 312.624 L 464.941 315.720 L 470.126 317.520 L 475.311 319.320 L 490.866 315.792 L 496.051 319.104 L 501.236 321.696 L 506.421 324.360 L 511.606 326.520 L 527.161 311.760 L 532.347 308.736 L 537.532 312.336 L 542.717 310.680 L 547.902 304.200 L 563.457 295.129 L 568.642 276.841 L 573.827 283.681 L 579.012 287.281 L 584.197 291.241 L 599.752 299.161 L 604.937 303.264 L 610.122 302.760 L 615.307 304.560 L 620.492 303.696 L 636.047 293.761 L 641.232 293.473 L 646.417 294.337 L 651.602 298.081 L 656.787 298.441 L 672.342 301.321 L 677.528 302.400 L 682.713 304.560 L 687.898 306.864 L 693.083 306.576 L 708.638 305.640" clip-path="url(#pc6e94846f8)" style="fill: none; stroke: #0000ff; stroke-width: 1.5; stroke-linecap: square"/>
   </g>
   <g id="line2d_56">
    <path d="M 96.804 322.920 L 101.989 327.960 L 107.174 331.199 L 112.359 334.439 L 127.914 336.239 L 133.099 339.119 L 138.284 339.479 L 143.469 335.519 L 148.654 333.719 L 164.209 332.279 L 169.394 331.559 L 174.579 330.480 L 179.764 326.304 L 184.949 326.160 L 200.504 329.040 L 205.689 329.760 L 210.874 335.519 L 216.059 336.383 L 221.244 336.815 L 236.799 336.095 L 241.985 333.719 L 247.170 332.639 L 252.355 331.919 L 257.540 330.983 L 273.095 327.600 L 278.280 328.320 L 283.465 324.000 L 288.650 323.424 L 293.835 325.800 L 309.390 327.024 L 314.575 327.384 L 319.760 325.800 L 324.945 319.680 L 330.130 315.720 L 345.685 311.760 L 350.870 309.600 L 356.055 313.056 L 361.240 311.760 L 366.425 313.560 L 381.980 311.400 L 387.166 306.864 L 392.351 306.360 L 402.721 306.864 L 418.276 309.240 L 423.461 310.680 L 428.646 312.624 L 439.016 313.056 L 454.571 318.960 L 459.756 316.080 L 464.941 317.160 L 470.126 320.400 L 475.311 323.280 L 490.866 318.960 L 496.051 321.912 L 501.236 321.984 L 506.421 324.720 L 511.606 326.520 L 527.161 316.440 L 532.347 314.496 L 537.532 318.240 L 542.717 317.160 L 547.902 312.480 L 563.457 299.665 L 568.642 300.601 L 573.827 294.841 L 579.012 294.121 L 584.197 300.241 L 599.752 308.736 L 604.937 307.800 L 610.122 306.720 L 615.307 308.880 L 620.492 307.800 L 636.047 300.817 L 641.232 297.505 L 646.417 301.105 L 651.602 300.817 L 656.787 301.105 L 672.342 303.480 L 677.528 304.416 L 682.713 308.520 L 687.898 312.624 L 693.083 312.336 L 708.638 309.600" clip-path="url(#pc6e94846f8)" style="fill: none; stroke: #ff0000; stroke-width: 1.5; stroke-linecap: square"/>
   </g>
   <g id="patch_9">
    <path d="M 60.8400 390.5280 L 60.8400 241.5600" style="shape-rendering: crispEdges; fill: none; stroke: #000000; stroke-width: 0.72; stroke-linejoin: miter; stroke-linecap: square"/>
   </g>
   <g id="patch_10">
    <path d="M 853.5600 390.5280 L 853.5600 241.5600" style="shape-rendering: crispEdges; fill: none; stroke: #000000; stroke-width: 0.72; stroke-linejoin: miter; stroke-linecap: square"/>
   </g>
   <g id="patch_11">
    <path d="M 60.7680 390.6000 L 853.5600 390.6000" style="shape-rendering: crispEdges; fill: none; stroke: #000000; stroke-width: 0.72; stroke-linejoin: miter; stroke-linecap: square"/>
   </g>
   <g id="patch_12">
    <path d="M 60.7680 241.5600 L 853.5600 241.5600" style="shape-rendering: crispEdges; fill: none; stroke: #000000; stroke-width: 0.72; stroke-linejoin: miter; stroke-linecap: square"/>
   </g>
   <g id="legend_2">
    <g id="patch_13">
     <path d="M 67.768 278.916 L 122.752 278.916 Q 124.752 278.916 124.752 276.916 L 124.752 248.56 Q 124.752 246.56 122.752 246.56 L 67.768 246.56 Q 65.768 246.56 65.768 248.56 L 65.768 276.916 Q 65.768 278.916 67.768 278.916 z" style="fill: #ffffff; opacity: 0.8; stroke: #cccccc; stroke-linejoin: miter"/>
    </g>
    <g id="line2d_57">
     <path d="M 69.768 254.658 L 79.768 254.658 L 89.768 254.658" style="fill: none; stroke: #0000ff; stroke-width: 1.5; stroke-linecap: square"/>
    </g>
    <g id="text_33">
     <text style="font-size: 10px; font-family: 'DejaVu Sans', 'Liberation Sans', sans-serif; text-anchor: start" x="97.768" y="258.158">High</text>
    </g>
    <g id="line2d_58">
     <path d="M 69.768 269.336 L 79.768 269.336 L 89.768 269.336" style="fill: none; stroke: #ff0000; stroke-width: 1.5; stroke-linecap: square"/>
    </g>
    <g id="text_34">
     <text style="font-size: 10px; font-family: 'DejaVu Sans', 'Liberation Sans', sans-serif; text-anchor: start" x="97.768" y="272.836">Low</text>
    </g>
   </g>
  </g>
  <g id="text_35">
   <text style="font-size: 12px; font-family: 'DejaVu Sans', 'Liberation Sans', sans-serif; text-anchor: middle" x="432" y="17.758">EURO/US DOLLAR (NEW) (KEO) Resistance and Support area (Feb 25)</text>
  </g>
  <g id="text_36">
   <text style="font-size: 30px; font-family: 'DejaVu Sans', 'Liberation Sans', sans-serif; text-anchor: start; fill: #808080; opacity: 0.12" x="93.888" y="116.28">MagicalAnalysis.com</text>
  </g>
  <g id="text_37">
   <text style="font-size: 30px; font-family: 'DejaVu Sans', 'Liberation Sans', sans-serif; text-anchor: start; fill: #808080; opacity: 0.12" x="433.728" y="116.28">MagicalPrediction.com</text>
  </g>
  <g id="text_38">
   <text style="font-size: 30px; font-family: 'DejaVu Sans', 'Liberation Sans', sans-serif; text-anchor: start; fill: #808080; opacity: 0.12" x="93.888" y="224.28">MagicalAnalysis.com</text>
  </g>
  <g id="text_39">
   <text style="font-size: 30px; font-family: 'DejaVu Sans', 'Liberation Sans', sans-serif; text-anchor: start; fill: #808080; opacity: 0.12" x="433.728" y="224.28">MagicalPrediction.com</text>
  </g>
  <g id="text_40">
   <text style="font-size: 30px; font-family: 'DejaVu Sans', 'Liberation Sans', sans-serif; text-anchor: start; fill: #808080; opacity: 0.12" x="93.888" y="332.28">MagicalAnalysis.com</text>
  </g>
  <g id="text_41">
   <text style="font-size: 30px; font-family: 'DejaVu Sans', 'Liberation Sans', sans-serif; text-anchor: start; fill: #808080; opacity: 0.12" x="433.728" y="332.28">MagicalPrediction.com</text>
  </g>
 </g>
 <defs>
  <clipPath id="p3111c5b65c">
   <rect x="60.768" y="50.688" width="792.792" height="148.968"/>
  </clipPath>
  <clipPath id="pc6e94846f8">
   <rect x="60.768" y="241.56" width="792.792" height="148.968"/>
  </clipPath>
 </defs>
</svg>

</body></html>
